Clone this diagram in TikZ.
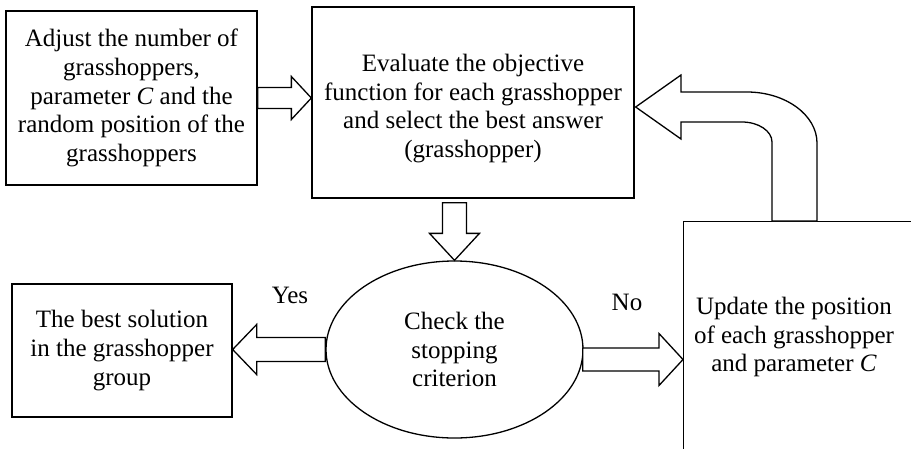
\documentclass[tikz,border=0pt]{standalone}
\usepackage{fontspec}
\setmainfont{Liberation Serif}
\usetikzlibrary{calc,shapes.geometric}

\newcommand\flowfont{\fontsize{25}{28.8}\selectfont}

% hollow block arrow: #1 tail, #2 tip, #3 shaft half-width, #4 head half-width, #5 head length
\newcommand\blockarrow[5]{%
  \coordinate (ba-h) at ($(#2)!#5!(#1)$);
  \draw[blk] ($(#1)!#3!90:(#2)$) -- ($(ba-h)!#3!90:(#2)$) -- ($(ba-h)!#4!90:(#2)$)
    -- (#2) -- ($(ba-h)!#4!-90:(#2)$) -- ($(ba-h)!#3!-90:(#2)$) -- ($(#1)!#3!-90:(#2)$) -- cycle;}

\tikzset{
  box/.style={draw, line width=1.3pt, rectangle, inner sep=0pt, align=center, font=\flowfont},
  oval/.style={draw, line width=1.3pt, ellipse, inner sep=0pt, align=center, font=\flowfont},
  txt/.style={inner sep=0pt, align=center, font=\flowfont},
  blk/.style={draw, fill=white, line width=1.3pt, line join=miter}
}

\begin{document}
\begin{tikzpicture}[x=1pt,y=-1pt]
\useasboundingbox (0,0) rectangle (911,448);
\fill[white] (0,0) rectangle (911,448);

% process boxes
\node[box, minimum width=251pt, minimum height=174pt] (setup) at (131.5,98)
  {Adjust the number of\\grasshoppers,\\parameter \textit{C} and the\\random position of the\\grasshoppers};
\node[box, minimum width=322pt, minimum height=191pt] (eval) at (473,102.5) {};
\node[txt] (evaltxt) at (473,108.5)
  {Evaluate the objective\\function for each grasshopper\\and select the best answer\\(grasshopper)};
\node[oval, minimum width=257pt, minimum height=177pt] (check) at (454.5,349.5)
  {Check the\\stopping\\criterion};
\node[box, minimum width=220pt, minimum height=133pt] (best) at (122,350.5)
  {The best solution\\in the grasshopper\\group};
\node[box, anchor=north west, minimum width=240pt, minimum height=240pt] (upd) at (683,221) {};
\node[txt] (updtxt) at (794,337) {Update the position\\of each grasshopper\\and parameter \textit{C}};

% branch labels
\node[txt] (yes) at (290,295) {Yes};
\node[txt] (no) at (627,302) {No};

% setup -> evaluate
\coordinate (a1s) at (setup.east);
\coordinate (a1e) at (setup.east -| eval.west);
\blockarrow{a1s}{a1e}{10.5pt}{21.5pt}{20pt}

% evaluate -> check
\coordinate (a2s) at ($(check.north |- eval.south)+(0,4)$);
\coordinate (a2e) at (check.north);
\blockarrow{a2s}{a2e}{12pt}{25pt}{27pt}

% check -> best solution (yes)
\coordinate (a3s) at (check.west);
\coordinate (a3e) at (best.east |- check.west);
\blockarrow{a3s}{a3e}{12pt}{25pt}{24pt}

% check -> update (no)
\coordinate (a4s) at ($(check.east)+(-1,10)$);
\coordinate (a4e) at (a4s -| upd.west);
\blockarrow{a4s}{a4e}{11.5pt}{26pt}{24pt}

% update -> evaluate (bent return arrow)
\coordinate (c1) at ($(upd.north west)+(89,0)$);
\coordinate (c2) at ($(upd.north west)+(134,0)$);
\coordinate (ct) at ($(eval.east)+(1,4.5)$);
\draw[blk] (c1) -- (772,142) .. controls (772,131) and (758.5,122) .. (742,122)
  -- (681,122) -- (681,139) -- (ct) -- (681,75) -- (681,92) -- (747,92)
  .. controls (785.5,92) and (817,115) .. (817,143) -- (c2) -- cycle;
\end{tikzpicture}
\end{document}
